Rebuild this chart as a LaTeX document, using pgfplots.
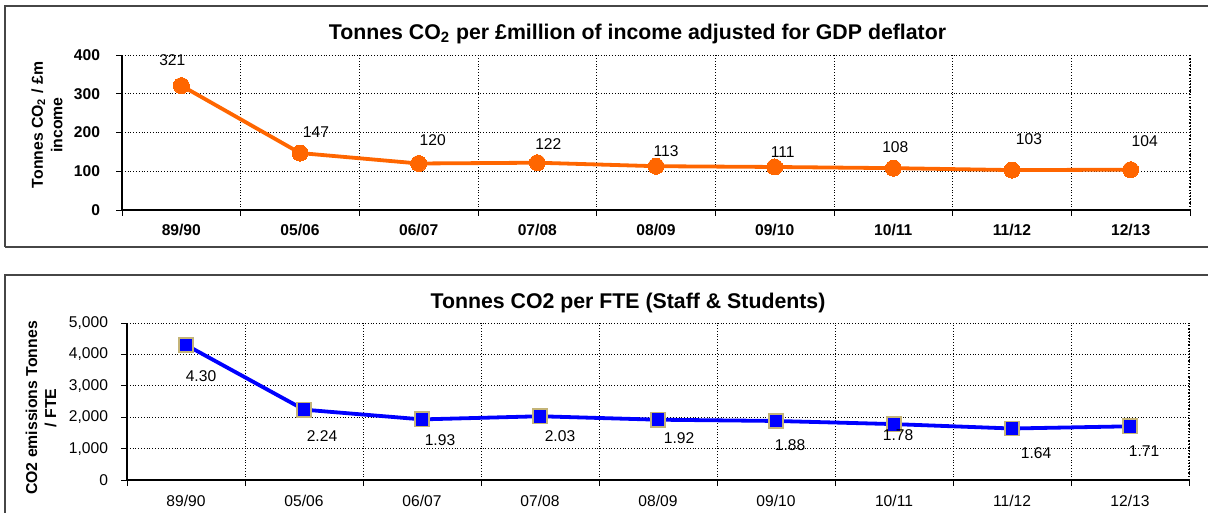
\documentclass[border=0pt]{standalone}
\usepackage{fontspec}
\setmainfont{Liberation Sans}
\usepackage{pgfplots}
\pgfplotsset{compat=1.18}
\usepackage{pgfplotstable}
\definecolor{orng}{RGB}{255,102,0}
\definecolor{khaki}{RGB}{196,180,120}
\definecolor{frame}{RGB}{70,70,70}

% dx, dy: label offsets in pt (picture drawn at 1 px = 0.5 pt)
\pgfplotstableread{
x y dx dy lab
0 321 -4.5 12.5 321
1 147 8 10.5 147
2 120 7 11.5 120
3 122 5.5 9.5 122
4 113 5 7.5 113
5 111 4 7.5 111
6 108 1 10.5 108
7 103 8.5 15.5 103
8 104 7 14.5 104
}\topdata

\pgfplotstableread{
x y dx dy lab
0 4300 7.5 -15.5 4.30
1 2240 9 -13 2.24
2 1930 9 -10.5 1.93
3 2030 10 -10 2.03
4 1920 10.5 -9 1.92
5 1880 7 -12 1.88
6 1780 2 -5.5 1.78
7 1640 12 -12.5 1.64
8 1710 7 -12.5 1.71
}\botdata

\pgfplotsset{
  excel/.style={
    scale only axis,
    xmin=-0.5, xmax=8.5,
    xtick={-0.5,0.5,...,8.5},
    x tick label as interval,
    xticklabels={89/90,05/06,06/07,07/08,08/09,09/10,10/11,11/12,12/13},
    tick align=outside,
    major tick length=3pt,
    axis x line*=bottom, axis y line*=left,
    axis line style={-, line width=0.65pt, black},
    xmajorgrids, ymajorgrids,
    grid style={densely dotted, black, line width=0.35pt},
    tick style={black, line width=0.4pt},
    scaled y ticks=false,
    /pgf/number format/assume math mode=true,
    clip=false,
  }
}

\begin{document}
\begin{tikzpicture}
\path[use as bounding box] (0pt,0pt) rectangle (604pt,256.5pt);
% panel frames
\draw[frame, line width=0.75pt] (2.5pt,133pt) -- (2.5pt,253.5pt) -- (606pt,253.5pt);
\draw[frame, line width=0.75pt] (606pt,133pt) -- (2.5pt,133pt);
\draw[frame, line width=0.75pt] (2.5pt,-5pt) -- (2.5pt,119pt) -- (606pt,119pt);

\begin{axis}[excel,
  at={(61pt,151.5pt)}, anchor=south west,
  width=534pt, height=77.5pt,
  ymin=0, ymax=400, ytick={0,100,...,400},
  ticklabel style={font=\fontsize{7.8}{9}\selectfont\bfseries},
  xticklabel style={yshift=-0.5pt},
  yticklabel style={xshift=-4.5pt},
]
\addplot[orng, line width=1.9pt, mark=*, mark size=4pt,
  mark options={fill=orng, draw=orng, line width=0pt},
  nodes near coords, point meta=explicit symbolic,
  visualization depends on={\thisrow{dx}\as\dx},
  visualization depends on={\thisrow{dy}\as\dy},
  every node near coord/.append style={anchor=center, xshift=\dx pt, yshift=\dy pt, black, font=\fontsize{7.8}{9}\selectfont}
] table[x=x, y=y, meta=lab] {\topdata};
\draw[densely dotted, line width=0.6pt, black] (rel axis cs:1,0) -- (rel axis cs:1,1);
\end{axis}

\begin{axis}[excel,
  at={(63.5pt,16.5pt)}, anchor=south west,
  width=531pt, height=78.5pt,
  ymin=0, ymax=5000, ytick={0,1000,...,5000},
  /pgf/number format/.cd, 1000 sep={,}, /pgfplots/.cd,
  ticklabel style={font=\fontsize{7.8}{9}\selectfont},
  xticklabel style={yshift=-1pt},
  yticklabel style={xshift=-3pt},
]
\addplot[blue, line width=1.9pt, mark=square*, mark size=3.6pt,
  mark options={fill=blue, draw=khaki, line width=0.75pt},
  nodes near coords, point meta=explicit symbolic,
  visualization depends on={\thisrow{dx}\as\dx},
  visualization depends on={\thisrow{dy}\as\dy},
  every node near coord/.append style={anchor=center, xshift=\dx pt, yshift=\dy pt, black, font=\fontsize{7.8}{9}\selectfont}
] table[x=x, y=y, meta=lab] {\botdata};
\draw[densely dotted, line width=0.6pt, black] (rel axis cs:1,0) -- (rel axis cs:1,1);
\end{axis}

\node[font=\fontsize{10.65}{12}\selectfont\bfseries] at (318.75pt,239.5pt) {Tonnes CO\textsubscript{2} per £million of income adjusted for GDP deflator};
\node[font=\fontsize{10.65}{12}\selectfont\bfseries] at (314pt,105pt) {Tonnes CO2 per FTE (Staff \& Students)};
\node[rotate=90, align=center, font=\fontsize{7.9}{9.8}\selectfont\bfseries] at (23.5pt,194pt) {Tonnes CO\textsubscript{2} / £m\\income};
\node[rotate=90, align=center, font=\fontsize{7.9}{9.5}\selectfont\bfseries] at (20.5pt,52.5pt) {CO2 emissions Tonnes\\/ FTE};
\end{tikzpicture}
\end{document}
